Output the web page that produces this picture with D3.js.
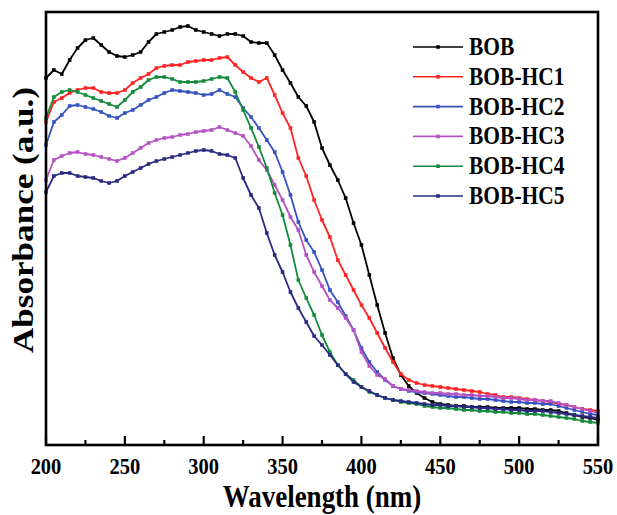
<!DOCTYPE html>
<html>
<head>
<meta charset="utf-8">
<script src="https://cdn.jsdelivr.net/npm/d3@7"></script>
<style>
  html, body { margin: 0; padding: 0; background: #fff; }
  svg text { font-family: "Liberation Serif", "Times New Roman", serif; font-weight: bold; fill: #000; }
</style>
</head>
<body>
<div id="chart"></div>
<script>
// wavelength grid (nm), one sample every 5 nm
const wavelengths = d3.range(200, 551, 5);

const seriesNames = ["BOB", "BOB-HC1", "BOB-HC2", "BOB-HC3", "BOB-HC4", "BOB-HC5"];
const seriesColors = ["#000000", "#ff2424", "#3652c2", "#b452c4", "#128c3a", "#2a2a82"];

const bob = [3.67, 3.75, 3.71, 3.85, 3.97, 4.05, 4.07, 4.00, 3.93, 3.89, 3.88, 3.90, 3.93, 4.03, 4.11, 4.13,
  4.15, 4.18, 4.19, 4.15, 4.13, 4.11, 4.09, 4.11, 4.11, 4.09, 4.03, 4.02, 4.02, 3.90, 3.75, 3.62,
  3.48, 3.39, 3.23, 2.97, 2.80, 2.65, 2.47, 2.22, 2.00, 1.70, 1.40, 1.12, 0.87, 0.70, 0.59, 0.52,
  0.47, 0.43, 0.41, 0.40, 0.39, 0.39, 0.38, 0.38, 0.38, 0.37, 0.37, 0.37, 0.37, 0.36, 0.36, 0.35,
  0.35, 0.34, 0.32, 0.30, 0.28, 0.27, 0.25];
const hc1 = [3.23, 3.43, 3.47, 3.52, 3.55, 3.57, 3.57, 3.53, 3.52, 3.52, 3.55, 3.62, 3.67, 3.71, 3.77, 3.79,
  3.80, 3.80, 3.83, 3.84, 3.85, 3.85, 3.87, 3.88, 3.80, 3.73, 3.67, 3.63, 3.67, 3.50, 3.32, 3.17,
  2.87, 2.69, 2.45, 2.25, 2.08, 1.85, 1.70, 1.55, 1.40, 1.27, 1.12, 0.97, 0.83, 0.71, 0.65, 0.62,
  0.60, 0.59, 0.58, 0.57, 0.56, 0.55, 0.54, 0.53, 0.51, 0.50, 0.48, 0.48, 0.47, 0.46, 0.45, 0.44,
  0.43, 0.41, 0.40, 0.38, 0.36, 0.35, 0.34];
const hc2 = [3.00, 3.23, 3.30, 3.39, 3.40, 3.38, 3.36, 3.33, 3.29, 3.27, 3.32, 3.35, 3.40, 3.45, 3.48, 3.52,
  3.55, 3.54, 3.53, 3.52, 3.50, 3.51, 3.55, 3.51, 3.48, 3.37, 3.28, 3.17, 3.05, 2.93, 2.73, 2.50,
  2.23, 2.05, 1.93, 1.75, 1.55, 1.43, 1.29, 1.15, 0.97, 0.83, 0.73, 0.65, 0.59, 0.56, 0.54, 0.53,
  0.52, 0.51, 0.50, 0.49, 0.48, 0.48, 0.47, 0.46, 0.46, 0.45, 0.44, 0.43, 0.43, 0.42, 0.42, 0.41,
  0.41, 0.39, 0.37, 0.35, 0.33, 0.31, 0.30];
const hc3 = [2.65, 2.85, 2.89, 2.92, 2.93, 2.91, 2.90, 2.88, 2.86, 2.84, 2.87, 2.92, 2.97, 3.02, 3.05, 3.07,
  3.08, 3.10, 3.11, 3.13, 3.14, 3.15, 3.18, 3.15, 3.12, 3.09, 2.99, 2.85, 2.75, 2.60, 2.45, 2.28,
  2.15, 1.90, 1.73, 1.59, 1.45, 1.37, 1.27, 1.15, 0.93, 0.79, 0.70, 0.66, 0.59, 0.56, 0.55, 0.54,
  0.53, 0.52, 0.52, 0.51, 0.51, 0.50, 0.50, 0.49, 0.49, 0.48, 0.47, 0.47, 0.46, 0.45, 0.45, 0.44,
  0.44, 0.42, 0.40, 0.38, 0.36, 0.34, 0.32];
const hc4 = [3.27, 3.48, 3.53, 3.55, 3.53, 3.50, 3.47, 3.44, 3.41, 3.38, 3.45, 3.53, 3.58, 3.65, 3.68, 3.68,
  3.66, 3.63, 3.63, 3.63, 3.64, 3.66, 3.68, 3.67, 3.53, 3.35, 3.17, 2.98, 2.77, 2.52, 2.30, 2.00,
  1.65, 1.47, 1.30, 1.10, 0.93, 0.80, 0.71, 0.65, 0.58, 0.53, 0.50, 0.47, 0.45, 0.43, 0.42, 0.41,
  0.39, 0.38, 0.37, 0.37, 0.36, 0.35, 0.35, 0.34, 0.34, 0.33, 0.33, 0.32, 0.32, 0.31, 0.31, 0.30,
  0.29, 0.28, 0.27, 0.26, 0.24, 0.23, 0.22];
const hc5 = [2.53, 2.69, 2.72, 2.72, 2.69, 2.68, 2.67, 2.64, 2.62, 2.64, 2.69, 2.73, 2.77, 2.81, 2.84, 2.86,
  2.88, 2.90, 2.92, 2.94, 2.95, 2.94, 2.91, 2.90, 2.87, 2.67, 2.50, 2.37, 2.12, 1.90, 1.73, 1.53,
  1.37, 1.23, 1.09, 1.00, 0.90, 0.80, 0.71, 0.63, 0.58, 0.54, 0.50, 0.47, 0.45, 0.44, 0.43, 0.42,
  0.41, 0.40, 0.40, 0.39, 0.39, 0.38, 0.38, 0.37, 0.37, 0.36, 0.36, 0.35, 0.35, 0.34, 0.34, 0.34,
  0.33, 0.32, 0.31, 0.30, 0.29, 0.28, 0.27];

const xTicks = [200, 250, 300, 350, 400, 450, 500, 550];
const xMinorTicks = [225, 275, 325, 375, 425, 475, 525];

const width = 617, height = 515;
const margin = { top: 12, right: 19, bottom: 70, left: 46 };
const stretch = 1.15; // reference text is taller than wide

const series = seriesNames.map((name, i) => ({
  name,
  color: seriesColors[i],
  values: [bob, hc1, hc2, hc3, hc4, hc5][i].map((v, j) => ({ w: wavelengths[j], a: v }))
}));

const svg = d3.select("#chart")
  .append("svg")
  .attr("width", width)
  .attr("height", height);

const x = d3.scaleLinear().domain([200, 550]).range([margin.left, width - margin.right]);
const y = d3.scaleLinear().domain([0, 4.33]).range([height - margin.bottom, margin.top]);

const line = d3.line().x((d) => x(d.w)).y((d) => y(d.a));

const plot = svg.append("g");

series.forEach((s) => {
  const g = plot.append("g");
  g.append("path")
    .datum(s.values)
    .attr("fill", "none")
    .attr("stroke", s.color)
    .attr("stroke-width", 1.8)
    .attr("stroke-linejoin", "round")
    .attr("d", line);
  g.selectAll("rect")
    .data(s.values)
    .join("rect")
    .attr("x", (d) => x(d.w) - 1.8)
    .attr("y", (d) => y(d.a) - 1.8)
    .attr("width", 3.6)
    .attr("height", 3.6)
    .attr("fill", s.color);
});

// frame
svg.append("rect")
  .attr("x", margin.left)
  .attr("y", margin.top)
  .attr("width", width - margin.left - margin.right)
  .attr("height", height - margin.top - margin.bottom)
  .attr("fill", "none")
  .attr("stroke", "#000")
  .attr("stroke-width", 2.6);

// inward ticks on the bottom axis
const yBase = height - margin.bottom;
svg.append("g")
  .selectAll("line")
  .data(xTicks.concat(xMinorTicks))
  .join("line")
  .attr("x1", (d) => x(d))
  .attr("x2", (d) => x(d))
  .attr("y1", yBase)
  .attr("y2", (d) => yBase - (xTicks.includes(d) ? 9 : 5))
  .attr("stroke", "#000")
  .attr("stroke-width", 2.2);

svg.append("g")
  .selectAll("text")
  .data(xTicks)
  .join("text")
  .attr("transform", (d) => `translate(${x(d)},474) scale(1,${stretch})`)
  .attr("text-anchor", "middle")
  .style("font-size", "20.5px")
  .text((d) => d);

svg.append("text")
  .attr("transform", `translate(${(x(200) + x(550)) / 2},507) scale(1,${stretch})`)
  .attr("text-anchor", "middle")
  .style("font-size", "27px")
  .text("Wavelength (nm)");

svg.append("text")
  .attr("transform", `translate(33,220) scale(1,1.17) rotate(-90)`)
  .attr("text-anchor", "middle")
  .style("font-size", "30px")
  .text("Absorbance (a.u.)");

// legend
const legend = svg.append("g");
const legendRows = legend.selectAll("g")
  .data(series)
  .join("g")
  .attr("transform", (_, i) => `translate(413,${47 + i * 29.8})`);

legendRows.append("line")
  .attr("x1", 0)
  .attr("x2", 50)
  .attr("stroke", (d) => d.color)
  .attr("stroke-width", 1.6);

legendRows.append("rect")
  .attr("x", 23.2)
  .attr("y", -1.8)
  .attr("width", 3.6)
  .attr("height", 3.6)
  .attr("fill", (d) => d.color);

legendRows.append("text")
  .attr("transform", `translate(56,8) scale(1,${stretch})`)
  .style("font-size", "21.5px")
  .text((d) => d.name);
</script>
</body>
</html>
